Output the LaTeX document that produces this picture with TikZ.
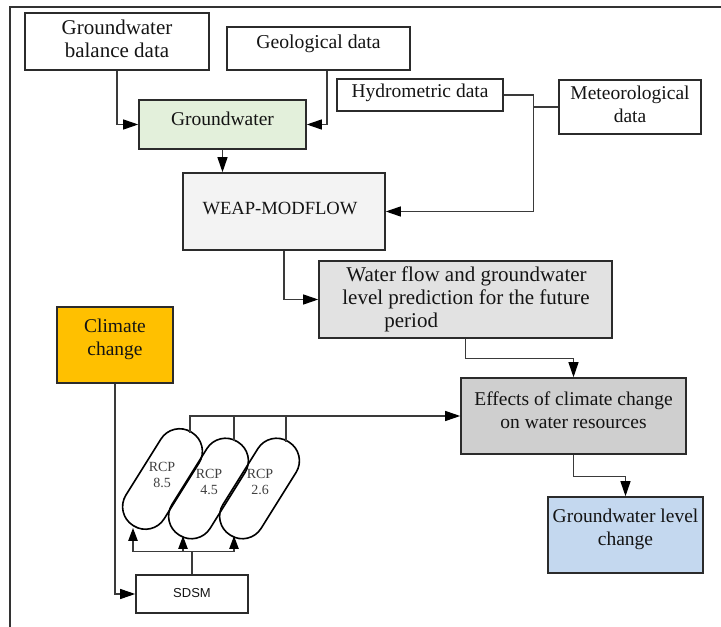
\documentclass[tikz,border=0pt]{standalone}
\usepackage{fontspec}
\setmainfont{Liberation Serif}
\newfontfamily\serifrm{Liberation Serif}
\newfontfamily\sdsmfont{Liberation Sans}
\usetikzlibrary{arrows.meta,calc}
\definecolor{boxline}{HTML}{2B2B2B}
\definecolor{lncol}{HTML}{3A3A3A}
\definecolor{txtcol}{HTML}{141414}
\definecolor{gwgreen}{HTML}{E3F0DB}
\definecolor{weapgray}{HTML}{F3F3F3}
\definecolor{wfgray}{HTML}{E2E2E2}
\definecolor{effgray}{HTML}{CFCFCF}
\definecolor{glcblue}{HTML}{C4D8EF}
\definecolor{ccorange}{HTML}{FFC000}
\newcommand\myfs[1]{\serifrm\fontsize{#1}{23}\selectfont}
\begin{document}
\begin{tikzpicture}[x=1pt,y=1pt,
  box/.style={draw=boxline, line width=1.6pt, inner sep=0pt},
  txt/.style={align=center, text=txtcol, font=\myfs{19.5}, inner sep=0pt},
  conn/.style={draw=lncol, line width=1.1pt},
  arr/.style={conn, -{Triangle[length=15pt,width=10pt,color=black]}},
  uparr/.style={conn, -{Triangle[length=13pt,width=9.5pt,color=black]}},
  capsule/.style={draw=black, line width=1.6pt, rounded corners=22pt, minimum width=110pt, minimum height=45pt, rotate=58, inner sep=0pt},
  rcptxt/.style={align=center, text=black!75, font=\serifrm\fontsize{14}{16}\selectfont, inner sep=0pt},
  frame/.style={draw=black!80, line width=1.2pt}]
\useasboundingbox (0,0) rectangle (721,627);
\draw[frame] (10,0) -- (10,620) -- (721,620);

% boxes
\node[box, minimum width=184pt, minimum height=57pt] (gbd) at (117,585.5) {};
\node[txt, font=\myfs{21}] (gbdt) at (117,588.5) {Groundwater\\balance data};
\node[box, minimum width=183pt, minimum height=43pt] (geo) at (318.5,578.5) {};
\node[txt, font=\myfs{19.7}] (geot) at (318.5,583) {Geological data};
\node[box, fill=gwgreen, minimum width=167pt, minimum height=49pt] (gw) at (222.5,502.5) {};
\node[txt] (gwt) at (222.5,508) {Groundwater};
\node[box, fill=weapgray, minimum width=202pt, minimum height=77pt] (weap) at (284,415.5) {};
\node[txt, font=\myfs{18.6}] (weapt) at (280,419) {WEAP-MODFLOW};
\node[box, minimum width=166pt, minimum height=32pt] (hyd) at (420,532) {};
\node[txt] (hydt) at (420,534.5) {Hydrometric data};
\node[box, minimum width=142pt, minimum height=54pt] (met) at (630,520) {};
\node[txt] (mett) at (630,522.5) {Meteorological\\data};
\node[box, fill=wfgray, minimum width=293pt, minimum height=77pt] (wf) at (465.5,327.5) {};
\node[txt, font=\myfs{21}, align=left] (wft) at (466,327.5) {\hspace*{4pt}Water flow and groundwater\\level prediction for the future\\\hspace*{42pt}period};
\node[box, fill=effgray, minimum width=225pt, minimum height=76pt] (eff) at (573.5,211) {};
\node[txt] (efft) at (573.5,217) {Effects of climate change\\on water resources};
\node[box, fill=glcblue, minimum width=155pt, minimum height=76pt] (glc) at (625.5,92) {};
\node[txt] (glct) at (625.5,98) {Groundwater level\\change};
\node[box, fill=ccorange, minimum width=116pt, minimum height=76pt] (cc) at (115,282) {};
\node[txt] (cct) at (115,288) {Climate\\change};
\node[box, minimum width=112pt, minimum height=38pt] (sdsm) at (192,33) {};
\node[txt, font=\sdsmfont\fontsize{13}{15}\selectfont] (sdsmt) at (192,34) {SDSM};

% RCP capsules
\node[capsule] (rcp85) at (162.5,148) {};
\node[capsule] (rcp45) at (208.5,138.5) {};
\node[capsule] (rcp26) at (259.5,138.5) {};
\node[rcptxt] (rcp85t) at (162,152.5) {RCP\\8.5};
\node[rcptxt] (rcp45t) at (209,145.5) {RCP\\4.5};
\node[rcptxt] (rcp26t) at (260,145.5) {RCP\\2.6};

% connectors top
\draw[arr] (gbd.south) |- (gw.west);
\draw[arr] ($(geo.south)+(8.5,0)$) |- (gw.east);
\draw[arr] (gw.south) -- (gw.south |- weap.north);
\coordinate (hjoin) at ($(hyd.east)+(30,0)$);
\draw[conn] (hyd.east) -- (hjoin);
\draw[conn] (met.west) -- (met.west -| hjoin);
\draw[arr] (hjoin) |- (weap.east);
\draw[arr] (weap.south) |- (wf.west);
\draw[arr] (wf.south) -- ++(0,-20) -| (eff.north);
\draw[arr] (eff.south) -- ++(0,-22) -| (glc.north);

% RCP to effects
\coordinate (t85) at (190,194);
\coordinate (t45) at (234,186);
\coordinate (t26) at (286,185);
\draw[arr] (t85) |- (eff.west);
\draw[conn] (t45) -- (t45 |- eff.west);
\draw[conn] (t26) -- (t26 |- eff.west);

% climate change and SDSM
\draw[arr] (cc.south) |- (sdsm.west);
\draw[conn] (sdsm.north) -- ++(0,23) coordinate (sj);
\coordinate (b85) at (133,99);
\coordinate (b45) at (183,91);
\coordinate (b26) at (234,91);
\draw[uparr] (sj) -| (b85);
\draw[uparr] (sj) -| (b26);
\draw[uparr] (b45 |- sj) -- (b45);
\end{tikzpicture}
\end{document}
